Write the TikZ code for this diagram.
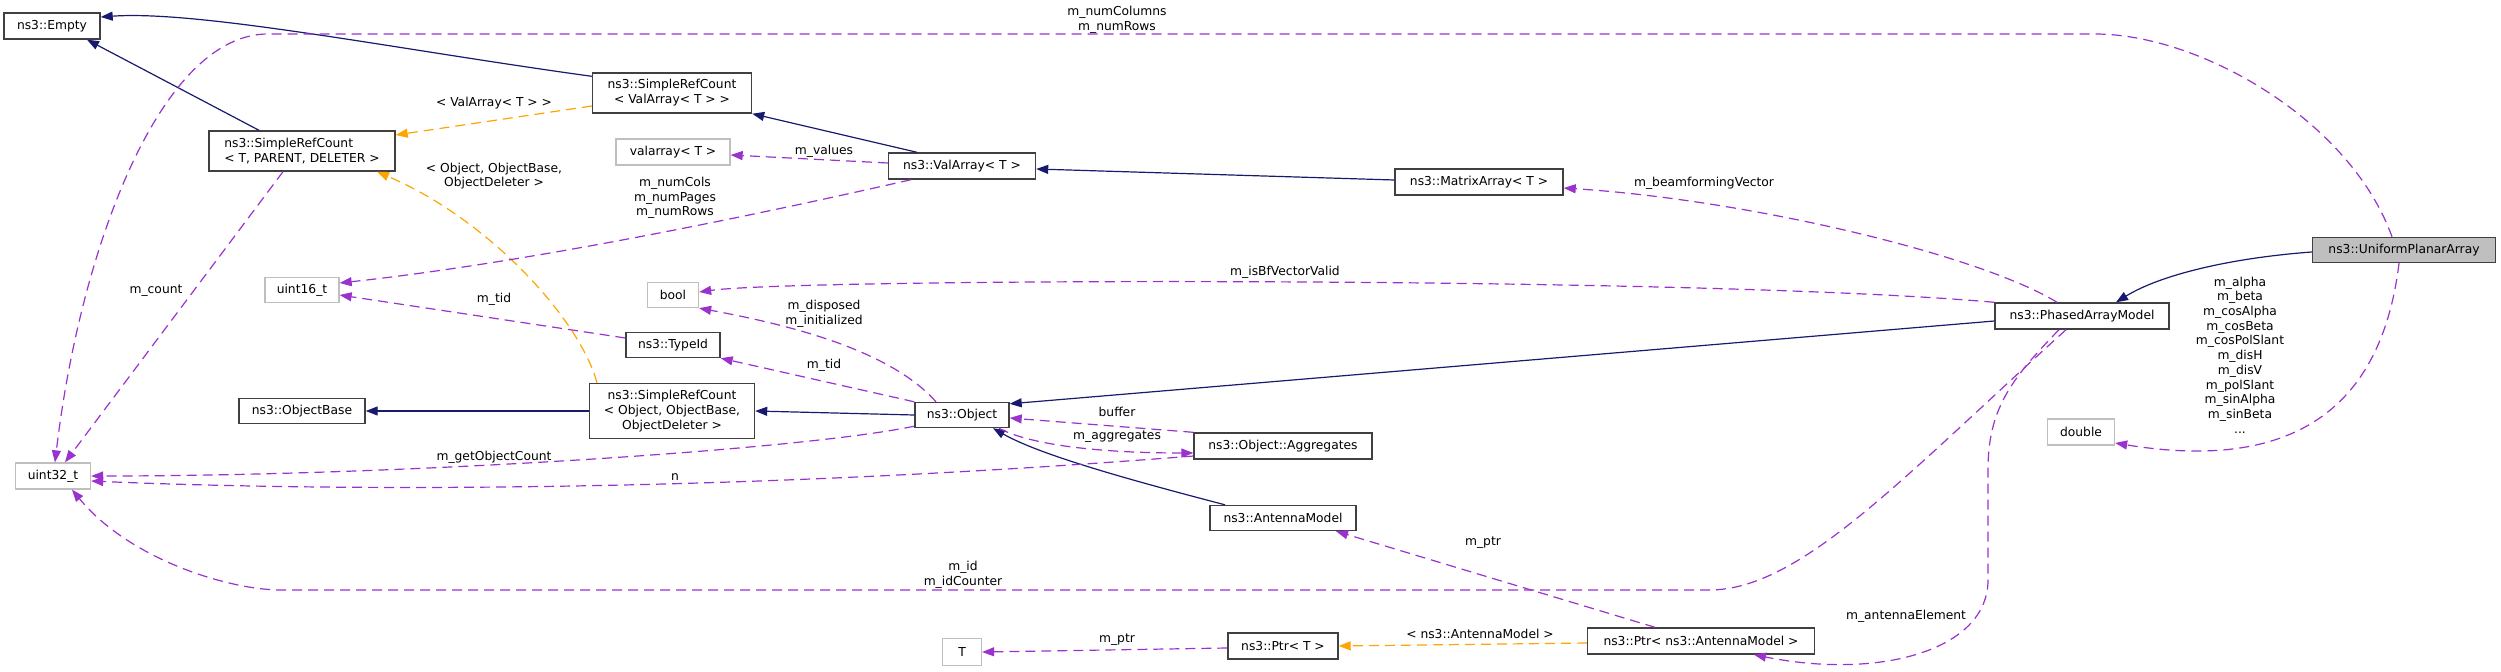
\documentclass[tikz,border=0pt]{standalone}
\usepackage{fontspec}
\setmainfont{DejaVu Sans}
\usetikzlibrary{arrows.meta}
\definecolor{inh}{HTML}{191970}
\definecolor{usg}{HTML}{9A32CD}
\definecolor{tpl}{HTML}{FFA500}
\definecolor{bord}{HTML}{404040}
\definecolor{lite}{HTML}{BFBFBF}
\begin{document}
\begin{tikzpicture}[x=1pt,y=-1pt,
  every node/.style={font=\fontsize{12.3}{15}\selectfont, inner sep=0pt},
  cls/.style={draw=bord, line width=1.4pt, fill=white, align=center},
  ext/.style={draw=lite, line width=1.3pt, fill=white, align=center},
  lbl/.style={align=center, font=\fontsize{12.3}{14.7}\selectfont},
  inhedge/.style={draw=inh, line width=1.2pt, -{Triangle[length=12pt,width=9pt]}},
  usedge/.style={draw=usg, line width=1.2pt, dash pattern=on 10pt off 6pt, -{Triangle[length=12pt,width=9pt]}},
  tpledge/.style={draw=tpl, line width=1.2pt, dash pattern=on 10pt off 6pt, -{Triangle[length=12pt,width=9pt]}},
]
\fill[white] (0,0) rectangle (2501,672);
\useasboundingbox (0,0) rectangle (2501,672);

% nodes
\node[cls, minimum width=96pt, minimum height=26pt] (empty) at (52,26) {ns3::Empty};
\node[cls, minimum width=186pt, minimum height=40pt, align=left] (srcT) at (302,151) {ns3::SimpleRefCount\\< T, PARENT, DELETER >};
\node[cls, minimum width=159pt, minimum height=40pt] (srcVA) at (672,93) {ns3::SimpleRefCount\\< ValArray< T > >};
\node[ext, minimum width=114pt, minimum height=26pt] (valarr) at (673,152) {valarray< T >};
\node[cls, minimum width=147pt, minimum height=26pt] (valArray) at (962,166) {ns3::ValArray< T >};
\node[cls, minimum width=168pt, minimum height=26pt] (matrix) at (1479,182) {ns3::MatrixArray< T >};
\node[ext, minimum width=74pt, minimum height=25pt] (uint16) at (302,290) {uint16\_t};
\node[ext, minimum width=51pt, minimum height=25pt] (bool) at (673,295) {bool};
\node[cls, minimum width=94pt, minimum height=25pt] (typeid) at (673,345) {ns3::TypeId};
\node[cls, minimum width=126pt, minimum height=25pt] (objbase) at (302,411) {ns3::ObjectBase};
\node[cls, minimum width=165pt, minimum height=55pt] (srcO) at (672,411) {ns3::SimpleRefCount\\< Object, ObjectBase,\\ObjectDeleter >};
\node[cls, minimum width=94pt, minimum height=25pt] (object) at (962,415) {ns3::Object};
\node[cls, minimum width=178pt, minimum height=26pt] (aggr) at (1283,446) {ns3::Object::Aggregates};
\node[ext, minimum width=75pt, minimum height=26pt] (uint32) at (53,476) {uint32\_t};
\node[cls, minimum width=146pt, minimum height=25pt] (antenna) at (1283,518) {ns3::AntennaModel};
\node[ext, minimum width=39pt, minimum height=27pt] (tnode) at (962,652) {T};
\node[cls, minimum width=110pt, minimum height=26pt] (ptrT) at (1283,646) {ns3::Ptr< T >};
\node[cls, minimum width=227pt, minimum height=26pt] (ptrAM) at (1701,641) {ns3::Ptr< ns3::AntennaModel >};
\node[cls, minimum width=174pt, minimum height=26pt] (pam) at (2082,316) {ns3::PhasedArrayModel};
\node[cls, fill=lite, minimum width=183pt, minimum height=25pt] (upa) at (2404,250) {ns3::UniformPlanarArray};
\node[ext, minimum width=67pt, minimum height=26pt] (dbl) at (2081,432) {double};

% inheritance
\draw[inhedge] ([yshift=-4pt]srcVA.north west) .. controls (400,50) and (200,10) .. ([yshift=9pt]empty.east);
\draw[inhedge] ([xshift=-43pt]srcT.north) -- ([xshift=35pt]empty.south);
\draw[inhedge] ([xshift=-45pt]valArray.north) -- (srcVA.south east);
\draw[inhedge] ([yshift=2pt]matrix.west) -- ([yshift=-3pt]valArray.east);
\draw[inhedge] ([yshift=-5pt]pam.west) -- ([yshift=-2pt]object.north east);
\draw[inhedge] ([yshift=-2pt]upa.west) .. controls (2230,258) and (2160,275) .. ([xshift=34pt]pam.north);
\draw[inhedge] (srcO.west) -- (objbase.east);
\draw[inhedge] (object.west) -- (srcO.east);
\draw[inhedge] ([xshift=-58pt]antenna.north) .. controls (1130,480) and (1040,455) .. ([xshift=31pt]object.south);

% template instantiation
\draw[tpledge] ([yshift=-13pt]srcVA.west) -- ([yshift=16pt]srcT.east);
\draw[tpledge] ([xshift=-75pt]srcO.north) .. controls (580,320) and (490,220) .. ([xshift=75pt]srcT.south);
\draw[tpledge] ([yshift=-2pt]ptrAM.west) -- (ptrT.east);

% usage
\draw[usedge] ([xshift=-12pt]upa.north) .. controls (2350,120) and (2200,34) .. (2095,34) -- (268,34) .. controls (160,34) and (80,250) .. ([xshift=2pt]uint32.north);
\draw[usedge] ([xshift=-19pt]srcT.south) -- ([xshift=12pt]uint32.north);
\draw[usedge] ([yshift=3pt]valArray.west) -- ([yshift=-3pt]valarr.east);
\draw[usedge] ([xshift=-51pt]valArray.south) .. controls (800,205) and (550,260) .. ([yshift=7pt]uint16.east);
\draw[usedge] ([yshift=7pt]typeid.west) -- ([yshift=-5pt]uint16.east);
\draw[usedge] ([xshift=-25pt]pam.north) .. controls (1980,255) and (1750,200) .. ([yshift=-6pt]matrix.east);
\draw[usedge] (pam.north west) .. controls (1700,276) and (800,278) .. ([yshift=3pt]bool.east);
\draw[usedge] ([xshift=-26pt]object.north) .. controls (890,350) and (790,325) .. (bool.south east);
\draw[usedge] (object.north west) -- (typeid.south east);
\draw[usedge] ([yshift=2pt]object.south west) .. controls (800,450) and (400,476) .. (uint32.east);
\draw[usedge] (aggr.north west) -- ([yshift=-3pt]object.east);
\draw[usedge] ([xshift=37pt]object.south) .. controls (1030,445) and (1100,453) .. ([yshift=-7pt]aggr.west);
\draw[usedge] ([yshift=-10pt]aggr.west) .. controls (700,495) and (300,490) .. ([yshift=-5pt]uint32.east);
\draw[usedge] ([xshift=-16pt]pam.south) .. controls (1900,480) and (1800,590) .. (1709,590) -- (281,590) .. controls (230,590) and (130,560) .. ([xshift=19pt]uint32.south);
\draw[usedge] ([xshift=-23pt]pam.south) .. controls (2010,380) and (1988,410) .. (1988,470) -- (1988,580) .. controls (1988,650) and (1880,680) .. ([xshift=53pt]ptrAM.south);
\draw[usedge] ([xshift=-46pt]ptrAM.north) -- ([xshift=53pt]antenna.south);
\draw[usedge] ([yshift=-2pt]ptrT.west) -- (tnode.east);
\draw[usedge] ([xshift=-5pt]upa.south) .. controls (2380,420) and (2280,470) .. ([yshift=-11pt]dbl.east);

% labels
\node[lbl] (l1) at (1117,20) {m\_numColumns\\m\_numRows};
\node[lbl] (l2) at (494,103) {< ValArray< T > >};
\node[lbl] (l3) at (494,176) {< Object, ObjectBase,\\ObjectDeleter >};
\node[lbl] (l4) at (824,151) {m\_values};
\node[lbl] (l5) at (675,198) {m\_numCols\\m\_numPages\\m\_numRows};
\node[lbl] (l6) at (156,291) {m\_count};
\node[lbl] (l7) at (494,299) {m\_tid};
\node[lbl] (l8) at (1704,183) {m\_beamformingVector};
\node[lbl] (l9) at (1285,272) {m\_isBfVectorValid};
\node[lbl] (l10) at (824,314) {m\_disposed\\m\_initialized};
\node[lbl] (l11) at (824,365) {m\_tid};
\node[lbl] (l12) at (1117,412) {buffer};
\node[lbl] (l13) at (1117,437) {m\_aggregates};
\node[lbl] (l14) at (494,457) {m\_getObjectCount};
\node[lbl] (l15) at (675,477) {n};
\node[lbl] (l16) at (963,575) {m\_id\\m\_idCounter};
\node[lbl] (l17) at (1483,543) {m\_ptr};
\node[lbl] (l18) at (1480,634) {< ns3::AntennaModel >};
\node[lbl] (l19) at (1117,640) {m\_ptr};
\node[lbl] (l20) at (1906,616) {m\_antennaElement};
\node[lbl] (l21) at (2240,355) {m\_alpha\\m\_beta\\m\_cosAlpha\\m\_cosBeta\\m\_cosPolSlant\\m\_disH\\m\_disV\\m\_polSlant\\m\_sinAlpha\\m\_sinBeta\\...};
\end{tikzpicture}
\end{document}
